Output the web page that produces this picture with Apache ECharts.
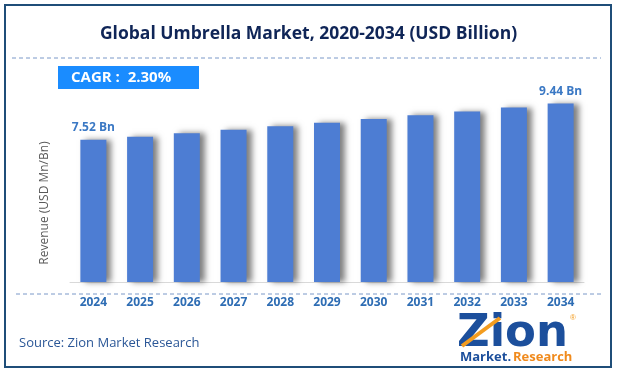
<!DOCTYPE html>
<html>
<head>
<meta charset="utf-8">
<script src="https://cdn.jsdelivr.net/npm/echarts@6/dist/echarts.min.js"></script>
<style>
html,body{margin:0;padding:0;background:#fff;}
#c{width:617px;height:373px;}
</style>
</head>
<body>
<div id="c"></div>
<script>
var years = ['2024','2025','2026','2027','2028','2029','2030','2031','2032','2033','2034'];
var revenue = [7.52, 7.69, 7.87, 8.05, 8.24, 8.43, 8.62, 8.82, 9.02, 9.23, 9.44];
var labelText = {0: '7.52 Bn', 10: '9.44 Bn'};
var titleText = 'Global Umbrella Market, 2020-2034 (USD Billion)';
var cagrText = 'CAGR :  2.30%';
var sourceText = 'Source: Zion Market Research';
var yAxisName = 'Revenue (USD Mn/Bn)';

var chart = echarts.init(document.getElementById('c'));
var font = '"Open Sans", sans-serif';
chart.setOption({
  animation: false,
  backgroundColor: '#fff',
  title: {
    text: titleText, left: 'center', top: 20,
    textStyle: {color: '#0f2557', fontSize: 17.5, fontWeight: 'bold', fontFamily: font}
  },
  grid: {left: 70, right: 33, top: 93, bottom: 91},
  xAxis: {
    type: 'category', data: years,
    axisLine: {show: true, lineStyle: {color: '#d9d9d9', width: 1}},
    axisTick: {show: false},
    axisLabel: {color: '#2e6db4', fontWeight: 'bold', fontSize: 12, fontFamily: font, margin: 15}
  },
  yAxis: {
    type: 'value', min: 0, max: 10,
    axisLine: {show: false}, axisTick: {show: false}, axisLabel: {show: false},
    splitLine: {show: false}
  },
  series: [{
    type: 'bar', data: revenue, barWidth: 26,
    itemStyle: {color: '#4d7dd3', shadowColor: 'rgba(0,0,0,0.5)', shadowBlur: 6, shadowOffsetX: 5, shadowOffsetY: 0},
    label: {
      show: true, position: 'top', distance: 6,
      formatter: function (p) { return labelText[p.dataIndex] || ''; },
      color: '#3a78c4', fontWeight: 'bold', fontSize: 12, fontFamily: font
    }
  }],
  graphic: [
    {type: 'rect', shape: {x: 5, y: 5, width: 606, height: 362}, style: {fill: 'none', stroke: '#1f4e79', lineWidth: 2}, z: 100},
    {type: 'line', shape: {x1: 12, y1: 58, x2: 601, y2: 58}, style: {stroke: '#7a98c8', lineWidth: 1, lineDash: [4, 3]}},
    {type: 'rect', shape: {x: 58, y: 66, width: 141, height: 23}, style: {fill: '#1a8cff'}},
    {type: 'text', x: 71, y: 78, style: {text: cagrText, fill: '#fff', font: 'bold 15px "Open Sans", sans-serif', textVerticalAlign: 'middle'}},
    {type: 'text', x: 45, y: 203, rotation: Math.PI / 2, style: {text: yAxisName, fill: '#595959', font: '12px "Open Sans", sans-serif', textAlign: 'center', textVerticalAlign: 'middle'}},
    {type: 'line', shape: {x1: 16, y1: 294, x2: 603, y2: 294}, style: {stroke: '#7a98c8', lineWidth: 1, lineDash: [4, 3]}},
    {type: 'text', x: 19, y: 343, style: {text: sourceText, fill: '#2b5797', font: '13px "Open Sans", sans-serif', textVerticalAlign: 'middle'}},
    {type: 'text', x: 457, y: 334, style: {text: 'Zion', fill: '#1c4f9c', font: 'bold 45px "DejaVu Sans", sans-serif', textVerticalAlign: 'middle'}},
    {type: 'line', shape: {x1: 462, y1: 346, x2: 500, y2: 318}, style: {stroke: '#f39c1f', lineWidth: 4}},
    {type: 'text', x: 570, y: 318, style: {text: '®', fill: '#f39c1f', font: '8px sans-serif', textVerticalAlign: 'middle'}},
    {type: 'text', x: 460, y: 357, style: {text: 'Market.', fill: '#1c4f9c', font: 'bold 13px "Open Sans", sans-serif', textVerticalAlign: 'middle'}},
    {type: 'text', x: 513, y: 357, style: {text: 'Research', fill: '#f08a1c', font: 'bold 13px "Open Sans", sans-serif', textVerticalAlign: 'middle'}}
  ]
});
</script>
</body>
</html>
